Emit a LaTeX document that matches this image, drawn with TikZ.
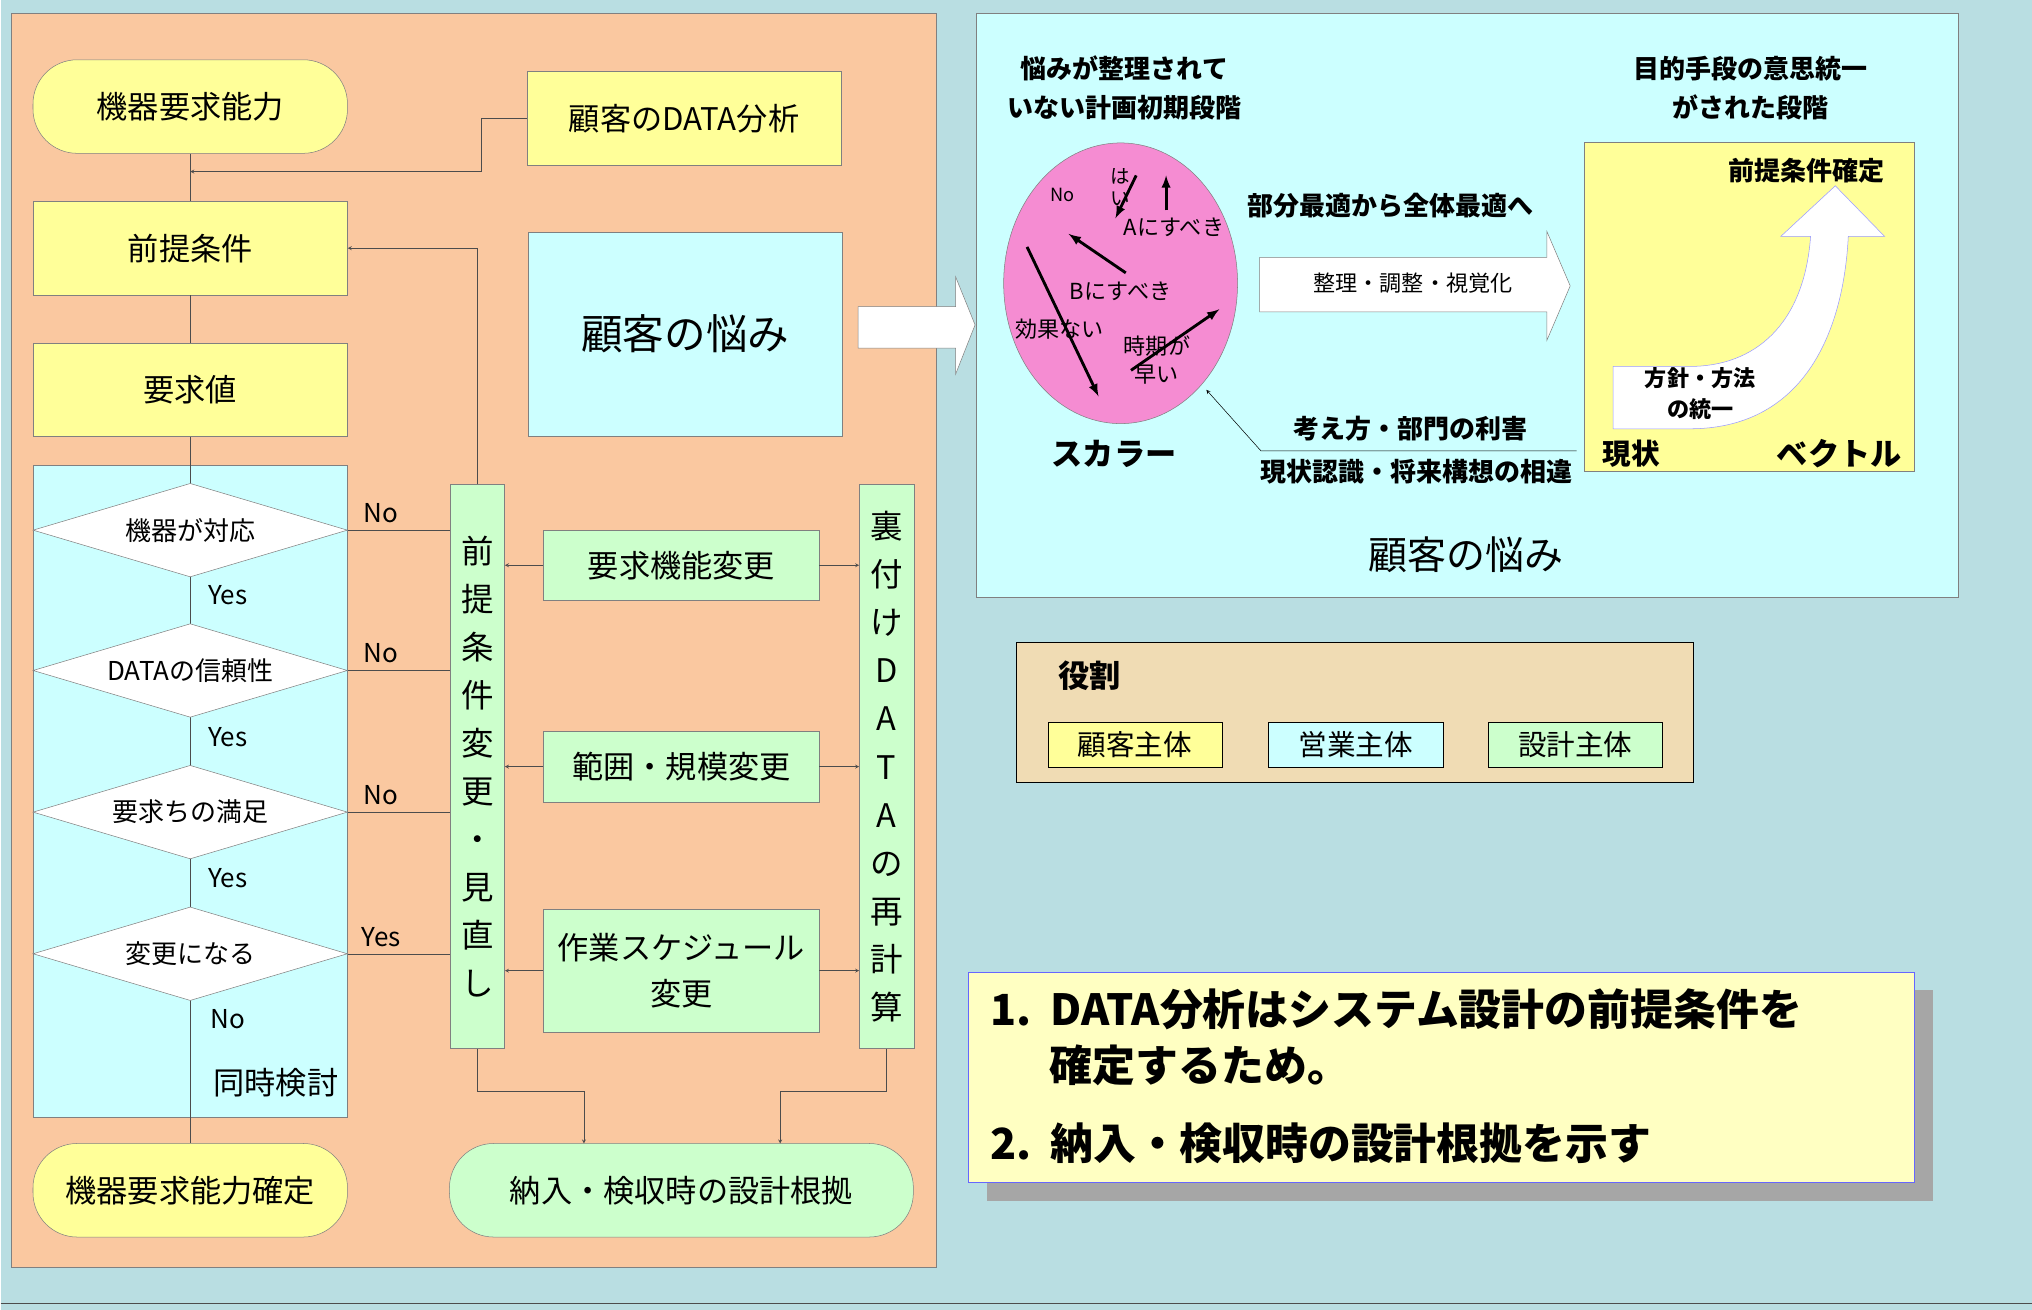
\documentclass[tikz,border=0pt]{standalone}
\usepackage{fontspec}
\setmainfont{Noto Sans CJK JP}
\usetikzlibrary{shapes.geometric, arrows, positioning, calc}
\definecolor{bgteal}{RGB}{185, 222, 226}
\definecolor{peach}{RGB}{250, 200, 160}
\definecolor{lyellow}{RGB}{255, 255, 153}
\definecolor{lcyan}{RGB}{204, 255, 255}
\definecolor{lgreen}{RGB}{204, 255, 204}
\definecolor{pinkish}{RGB}{245, 140, 210}
\definecolor{tan}{RGB}{240, 220, 180}
\newcommand{\fs}[1]{\fontsize{#1}{#1}\selectfont}

\begin{document}
\begin{tikzpicture}[
    x=1pt, y=-1pt,
    >=stealth,
    box/.style={rectangle, draw=gray, minimum width=242pt, minimum height=72pt, inner sep=0pt, font=\fs{24}, align=center},
    pill/.style={rectangle, rounded corners=34pt, draw=gray, minimum width=242pt, minimum height=72pt, inner sep=0pt, font=\fs{24}, align=center},
    dia/.style={diamond, aspect=3.36, draw=gray, fill=white, minimum width=242pt, minimum height=72pt, inner sep=0pt, font=\fs{20}},
    vbar/.style={rectangle, draw=gray, fill=lgreen, minimum width=42pt, minimum height=434pt, inner sep=0pt, font=\fontsize{25}{37}\selectfont, align=center},
    chg/.style={rectangle, draw=gray, fill=lgreen, minimum width=212pt, inner sep=0pt, font=\fs{24}, align=center},
    lab/.style={font=\fs{20}},
    tag/.style={rectangle, draw=black, minimum width=134pt, minimum height=35pt, inner sep=0pt, font=\fs{22}},
    line/.style={draw=black!70, thin},
    arrow/.style={draw=black!70, thin, ->},
    bolt/.style={draw=black, line width=2.2pt, -latex}
]
% background
\fill[bgteal] (0,0) rectangle (1563,1008);
\draw[black!70, thick] (0,1003) -- (1563,1003);
\fill[peach, draw=gray] (8,10) rectangle (720,975);
\fill[lcyan, draw=gray] (25,358) rectangle (267,860);

% main flow
\node (capability) [pill, fill=lyellow] at (146,82) {機器要求能力};
\node (data_analysis) [box, fill=lyellow] at (526,91) {顧客のDATA分析};
\node (premise) [box, fill=lyellow] at (146,191) {前提条件};
\node (required) [box, fill=lyellow] at (146,300) {要求値};
\node (worry) [box, fill=lcyan, minimum height=157pt, font=\fs{32}] at (527,257) {顧客の悩み};
\node (capability_fix) [pill, fill=lyellow] at (146,916) {機器要求能力確定};
\node (basis) [pill, fill=lgreen, minimum width=357pt] at (524,916) {納入・検収時の設計根拠};

% decisions
\draw[line] (capability) -- (premise) -- (required) -- (capability_fix);
\node (dev_ok) [dia] at (146,408) {機器が対応};
\node (data_ok) [dia] at (146,516) {DATAの信頼性};
\node (req_ok) [dia] at (146,625) {要求ちの満足};
\node (changed) [dia] at (146,734) {変更になる};
\foreach \y in {458,567,676} \node[lab] at (175,\y) {Yes};
\node[lab] at (175,784) {No};
\node[font=\fs{24}] at (212,833) {同時検討};

% change bars
\node (premise_chg) [vbar] at (367,590) {前\\提\\条\\件\\変\\更\\・\\見\\直\\し};
\node (recalc) [vbar] at (682,590) {裏\\付\\け\\D\\A\\T\\A\\の\\再\\計\\算};
\node (func_chg) [chg, minimum height=54pt] at (524,435) {要求機能変更};
\node (scope_chg) [chg, minimum height=55pt] at (524,590) {範囲・規模変更};
\node (sched_chg) [chg, minimum height=95pt, font=\fontsize{24}{36}\selectfont] at (524,747) {作業スケジュール\\変更};

\foreach \d/\t/\y in {dev_ok/No/408, data_ok/No/516, req_ok/No/625, changed/Yes/734} {
    \draw[line] (\d.east) -- (346,\y);
    \node[lab] at (293,\y-13) {\t};
}
\foreach \c in {func_chg, scope_chg, sched_chg} {
    \draw[arrow] (\c.west) -- (\c.west -| premise_chg.east);
    \draw[arrow] (\c.east) -- (\c.east -| recalc.west);
}
\draw[arrow] (data_analysis.west) -- (370,91) -- (370,132) -- (146,132);
\draw[arrow] (premise_chg.north) |- (premise.east);
\draw[arrow] (premise_chg.south) -- (367,840) -- (449,840) -- (449,880);
\draw[arrow] (recalc.south) -- (682,840) -- (600,840) -- (600,880);

% hollow arrow to right panel
\draw[gray, fill=white] (660,236) -- (735,236) -- (735,213) -- (750,250) -- (735,288) -- (735,268) -- (660,268) -- cycle;

% right panel
\fill[lcyan, draw=gray] (751,10) rectangle (1507,460);
\node[font=\bfseries\fontsize{20}{30}\selectfont, align=center] at (865,68) {悩みが整理されて\\いない計画初期段階};
\node[font=\bfseries\fontsize{20}{30}\selectfont, align=center] at (1347,68) {目的手段の意思統一\\がされた段階};
\node (scalar) [ellipse, draw=gray, fill=pinkish, minimum width=180pt, minimum height=216pt] at (862,218) {};
\node[font=\fs{14}] at (817,150) {No};
\node[font=\fontsize{15}{17}\selectfont, align=center] at (862,144) {は\\い};
\node[font=\fs{17}] at (903,175) {Aにすべき};
\node[font=\fs{17}] at (862,224) {Bにすべき};
\node[font=\fs{17}] at (815,253) {効果ない};
\node[font=\fontsize{17}{22}\selectfont, align=center] at (890,277) {時期が\\早い};
\draw[bolt] (790,190) -- (845,305);
\draw[bolt] (866,210) -- (822,180);
\draw[bolt] (897,162) -- (897,135);
\draw[bolt] (874,135) -- (858,168);
\draw[bolt] (870,285) -- (938,238);
\node[font=\bfseries\fs{24}] at (857,349) {スカラー};

\node[font=\bfseries\fs{20}] at (1070,158) {部分最適から全体最適へ};
\draw[gray, fill=white] (969,198) -- (1190,198) -- (1190,178) -- (1208,220) -- (1190,262) -- (1190,240) -- (969,240) -- cycle;
\node[font=\fs{17}] at (1087,218) {整理・調整・視覚化};
\coordinate (feedback) at (1213,347);
\draw[arrow, black] (feedback) -- (970,347) -- (928,300);
\node[font=\bfseries\fs{20}] at (1085,330) {考え方・部門の利害};
\node[font=\bfseries\fs{20}] at (1090,363) {現状認識・将来構想の相違};

\node (vector) [rectangle, draw=gray, fill=lyellow, minimum width=254pt, minimum height=253pt] at (1346,236) {};
\node[font=\bfseries\fs{20}] at (1390,131) {前提条件確定};
\draw[blue!40, fill=white] (1241,330) -- (1300,330) .. controls (1385,330) and (1418,260) .. (1422,182) -- (1450,182) -- (1412,143) -- (1370,182) -- (1393,182) .. controls (1388,250) and (1350,282) .. (1300,282) -- (1241,282) -- cycle;
\node[font=\bfseries\fontsize{17}{24}\selectfont, align=center] at (1308,303) {方針・方法\\の統一};
\node[font=\bfseries\fs{22}] at (1255,349) {現状};
\node[font=\bfseries\fs{24}] at (1415,349) {ベクトル};
\node[font=\fs{30}] at (1128,427) {顧客の悩み};

% roles
\node (roles) [rectangle, draw=black, fill=tan, minimum width=521pt, minimum height=108pt] at (1042,548) {};
\node[font=\bfseries\fs{24}] at (838,520) {役割};
\node (customer) [tag, fill=lyellow] at (873,573) {顧客主体};
\node (sales) [tag, fill=lcyan] at (1043,573) {営業主体};
\node (design) [tag, fill=lgreen] at (1212,573) {設計主体};

% summary note
\fill[black!35] (759,762) rectangle (1487,924);
\node (note) [rectangle, draw=blue!60, fill=lyellow!60, minimum width=728pt, minimum height=162pt] at (1109,829) {};
\node[font=\bfseries\fs{33}, anchor=west] at (758,777) {1.\ \ DATA分析はシステム設計の前提条件を};
\node[font=\bfseries\fs{33}, anchor=west] at (804,820) {確定するため。};
\node[font=\bfseries\fs{33}, anchor=west] at (758,880) {2.\ \ 納入・検収時の設計根拠を示す};
\end{tikzpicture}
\end{document}
